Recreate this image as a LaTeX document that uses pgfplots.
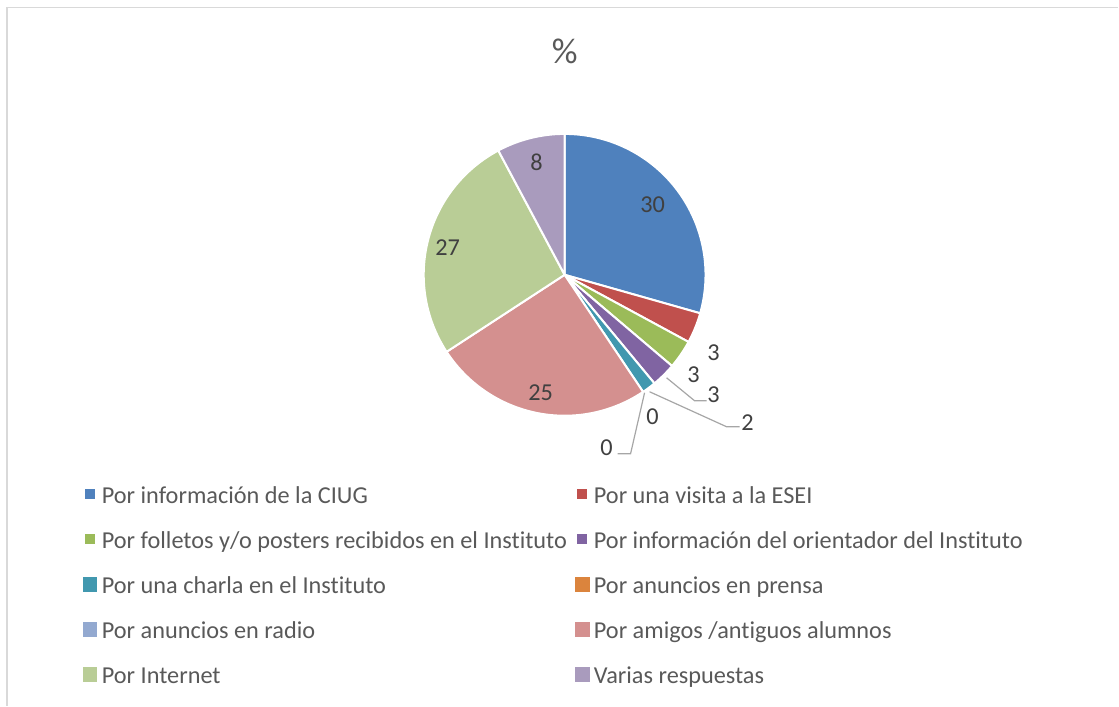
\documentclass[border=0pt]{standalone}
\usepackage{pgfplots}
\pgfplotsset{compat=1.18}
\usepackage{fontspec}
\setmainfont{Carlito}[Ligatures={NoCommon}]
\definecolor{cBlue}{HTML}{4F81BD}
\definecolor{cRed}{HTML}{C0504D}
\definecolor{cGreen}{HTML}{9BBB59}
\definecolor{cPurple}{HTML}{8064A2}
\definecolor{cTeal}{HTML}{4198AF}
\definecolor{cOrange}{HTML}{DB843D}
\definecolor{cLBlue}{HTML}{93A9D0}
\definecolor{cPink}{HTML}{D4908F}
\definecolor{cLGreen}{HTML}{B9CD96}
\definecolor{cLav}{HTML}{A99BBD}
\definecolor{cText}{HTML}{595959}
\definecolor{cLab}{HTML}{404040}
\definecolor{cLead}{HTML}{A6A6A6}
\definecolor{cFrame}{HTML}{D9D9D9}
\newcommand\sqimg[2]{\addlegendimage{legend image code/.code={\fill[#1] (-#2,-#2) rectangle (#2,#2);}}}
\begin{document}
\begin{tikzpicture}
\begin{axis}[
  x=1pt, y=1pt, y dir=reverse,
  xmin=0, xmax=1119, ymin=0, ymax=706,
  hide axis, clip=false,
  legend columns=2,
  legend style={at={(0.07417,0.31445)}, anchor=north west, draw=none, fill=none,
    inner sep=0pt, outer sep=0pt,
    font=\fontsize{24.3}{28}\selectfont, text=cText, row sep=24pt,
    nodes={inner sep=0pt, text height=19.5pt, text depth=1.5pt, anchor=west},
    /tikz/every odd column/.append style={column sep=5pt},
    /tikz/every even column/.append style={column sep=8pt}},
]
\path (axis cs:0,0) rectangle (axis cs:1119,706);
\draw[cFrame, line width=1.5pt] (axis cs:7,706) -- (axis cs:7,7.5) -- (axis cs:1119,7.5);

% legend
\sqimg{cBlue}{4.5pt}\addlegendentry{Por información de la CIUG}
\sqimg{cRed}{4.5pt}\addlegendentry{Por una visita a la ESEI}
\sqimg{cGreen}{4.5pt}\addlegendentry{Por folletos y/o posters recibidos en el Instituto}
\sqimg{cPurple}{4.5pt}\addlegendentry{Por información del orientador del Instituto}
\sqimg{cTeal}{6.75pt}\addlegendentry{Por una charla en el Instituto}
\sqimg{cOrange}{6.75pt}\addlegendentry{Por anuncios en prensa}
\sqimg{cLBlue}{6.75pt}\addlegendentry{Por anuncios en radio}
\sqimg{cPink}{6.75pt}\addlegendentry{Por amigos /antiguos alumnos}
\sqimg{cLGreen}{6.75pt}\addlegendentry{Por Internet}
\sqimg{cLav}{6.75pt}\addlegendentry{Varias respuestas}

% pie slices (share of the circle, %)
\gdef\cum{0}
\foreach \v/\c in {29.4/cBlue, 3.5/cRed, 3.3/cGreen, 2.8/cPurple, 1.6/cTeal, 0/cOrange, 0/cLBlue, 25.2/cPink, 26.4/cLGreen, 7.8/cLav}{
  \pgfmathsetmacro\a{90-3.6*\cum}
  \pgfmathsetmacro\b{90-3.6*(\cum+\v)}
  \pgfmathsetmacro\n{\cum+\v}\xdef\cum{\n}
  \ifdim\v pt>0pt
    \edef\tmp{\noexpand\addplot[forget plot, fill=\c, draw=white, line width=2pt, line join=round, domain=\b:\a, samples=90] ({565+141*cos(x)},{275-141*sin(x)}) -- (axis cs:565,275) -- cycle;}
    \tmp
  \fi
}

% leader lines
\addplot[forget plot, cLead, line width=1.2pt] coordinates {(667,378) (695,401) (707,401)};
\addplot[forget plot, cLead, line width=1.2pt] coordinates {(650,392) (727,427) (740,427)};
\addplot[forget plot, cLead, line width=1.2pt] coordinates {(645,393) (631,454) (618,454)};

% data labels
\begin{scope}[every node/.style={font=\fontsize{24.3}{28}\selectfont, text=cLab}]
\node at (axis cs:653,205) {30};
\node at (axis cs:714,353) {3};
\node at (axis cs:694,375) {3};
\node at (axis cs:714,395) {3};
\node at (axis cs:748,423) {2};
\node at (axis cs:653,417) {0};
\node at (axis cs:607,448) {0};
\node at (axis cs:541,393) {25};
\node at (axis cs:448,248) {27};
\node at (axis cs:537,162) {8};
\end{scope}

\node[font=\fontsize{36}{40}\selectfont, text=cText] at (axis cs:565,51) {\%};
\end{axis}
\end{tikzpicture}
\end{document}
